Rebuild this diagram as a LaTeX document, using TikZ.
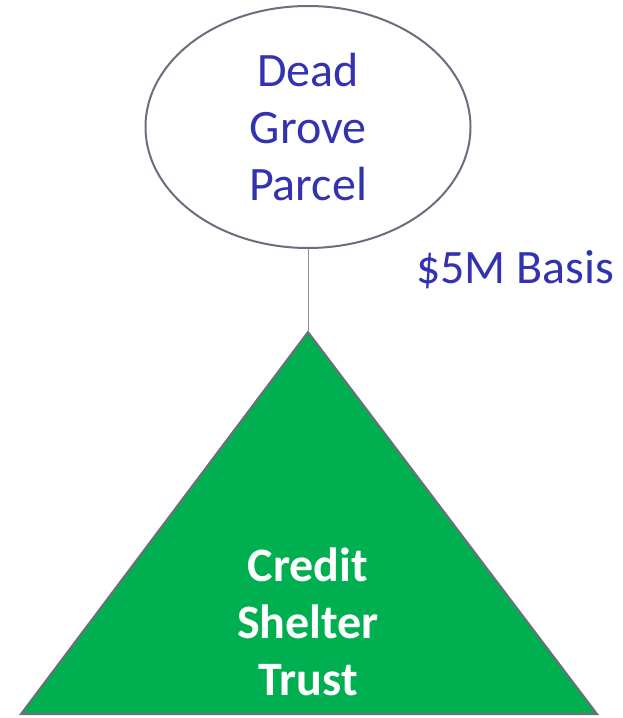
\documentclass[tikz,border=0pt]{standalone}
\usepackage{fontspec}
\setmainfont{Carlito}
\usetikzlibrary{shapes.geometric}
\definecolor{labelblue}{RGB}{51,51,178}
\definecolor{edgegray}{RGB}{110,108,125}
\definecolor{linkgray}{RGB}{140,140,155}
\definecolor{trustgreen}{RGB}{0,176,80}
\begin{document}
\begin{tikzpicture}[x=1pt,y=-1pt,
  bigtext/.style={font=\fontsize{48}{57}\selectfont, align=center, inner sep=0pt},
  parcel/.style={ellipse, draw=edgegray, line width=2pt, fill=white,
    minimum width=325pt, minimum height=242pt, inner sep=0pt,
    bigtext, text=labelblue},
  trustshape/.style={fill=trustgreen, draw=edgegray, line width=2pt, line join=miter},
  link/.style={draw=linkgray, line width=1pt}]
\useasboundingbox (0,0) rectangle (623,718);
% apex and base corners of the trust triangle
\coordinate (apex) at (308,332);
\coordinate (bl) at (21,714);
\coordinate (br) at (597,714);
\draw[trustshape] (apex) -- (br) -- (bl) -- cycle;
\node[bigtext, text=white, font=\fontsize{48}{57}\selectfont\bfseries] (trust) at (308,622) {Credit\\Shelter\\Trust};
% parcel held by the trust
\node[parcel] (grove) at (308,127) {Dead\\Grove\\Parcel};
\draw[link] (grove.south) -- (apex);
\node[bigtext, text=labelblue, anchor=base west] (basis) at (416,283) {\$5M Basis};
\end{tikzpicture}
\end{document}
